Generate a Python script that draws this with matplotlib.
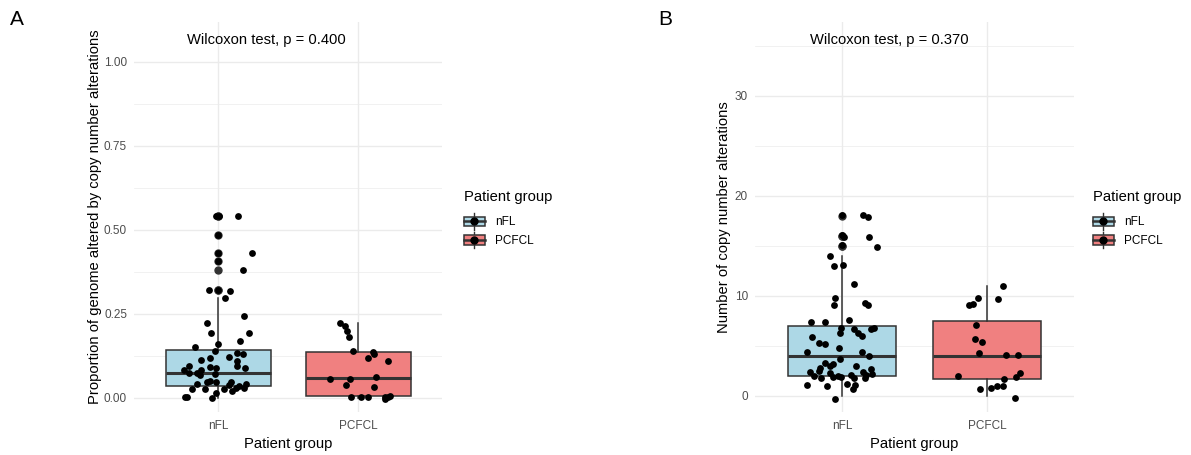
import matplotlib
matplotlib.use("Agg")
import matplotlib.pyplot as plt
import numpy as np
from matplotlib.legend_handler import HandlerBase
from matplotlib.lines import Line2D
from matplotlib.patches import Patch, Rectangle

plt.rcParams["font.family"] = ["Liberation Sans", "DejaVu Sans"]

groups = ["nFL", "PCFCL"]
group_colors = ["#ADD8E6", "#F08080"]
EDGE = "#333333"
GRID = "#EBEBEB"

# ---- panel A: proportion of genome altered ----
a_nfl_y = [0.542, 0.542, 0.542, 0.485, 0.431, 0.431, 0.409, 0.381, 0.320, 0.320,
           0.317, 0.298, 0.244, 0.222, 0.193, 0.192, 0.168, 0.159, 0.152, 0.141,
           0.135, 0.131, 0.119, 0.121, 0.114, 0.111, 0.096, 0.096, 0.091, 0.088,
           0.090, 0.083, 0.083, 0.075, 0.073, 0.068, 0.070, 0.051, 0.047, 0.047,
           0.040, 0.047, 0.039, 0.036, 0.041, 0.029, 0.027, 0.029, 0.026, 0.026,
           0.022, 0.016, 0.004, 0.004, -0.001]
a_nfl_dx = [-0.014, 0.010, 0.140, 0.000, 0.000, 0.243, 0.002, 0.180, -0.062, 0.000,
            0.083, 0.048, 0.183, -0.081, -0.048, 0.221, 0.160, 0.000, -0.162, -0.020,
            0.138, 0.181, -0.060, 0.081, -0.119, 0.138, 0.136, -0.210, -0.060, -0.012,
            0.195, -0.245, -0.119, -0.210, -0.150, -0.126, -0.019, -0.060, -0.012, -0.076,
            -0.150, 0.093, 0.076, 0.148, 0.200, 0.183, 0.040, 0.129, -0.186, -0.090,
            0.098, -0.012, -0.233, -0.219, -0.045]
a_pcfcl_y = [0.224, 0.215, 0.200, 0.182, 0.141, 0.136, 0.130, 0.120, 0.109, 0.062,
             0.056, 0.056, 0.037, 0.032, 0.002, 0.004, 0.004, 0.004, 0.004, 0.005,
             -0.003]
a_pcfcl_dx = [-0.129, -0.093, -0.076, -0.064, -0.033, 0.107, 0.117, 0.074, 0.217, 0.131,
              -0.202, -0.057, -0.083, 0.112, -0.052, 0.024, 0.074, 0.193, 0.212, 0.229,
              0.193]
a_q1 = [0.034, 0.006]
a_med = [0.073, 0.059]
a_q3 = [0.144, 0.136]
a_whislo = [0.0, 0.0]
a_whishi = [0.297, 0.223]
a_outliers = [[0.542, 0.542, 0.485, 0.431, 0.409, 0.381, 0.320, 0.320], []]
a_pvalue = "Wilcoxon test, p = 0.400"
a_yticks = [0.0, 0.25, 0.5, 0.75, 1.0]
a_yticklabels = ["0.00", "0.25", "0.50", "0.75", "1.00"]
a_yminor = [0.125, 0.375, 0.625, 0.875]

# ---- panel B: number of copy number alterations ----
b_nfl_y = [18.1, 18.1, 17.9, 16.1, 15.9, 15.9, 15.1, 14.9, 14.0, 13.0,
           13.1, 11.2, 9.8, 9.1, 9.3, 9.1, 7.6, 7.4, 7.4, 6.8,
           6.3, 6.7, 6.3, 6.0, 6.7, 6.8, 5.9, 5.3, 5.2, 4.8,
           4.4, 4.4, 4.0, 3.7, 3.3, 3.2, 3.0, 3.0, 2.8, 2.5,
           2.4, 2.0, 1.8, 2.3, 1.9, 2.0, 1.9, 2.1, 1.8, 2.4,
           1.8, 2.1, 2.7, 2.2, 1.1, 1.0, 1.2, 1.1, 0.7, -0.3]
b_nfl_dx = [0.000, 0.143, 0.179, 0.000, 0.014, 0.184, 0.000, 0.244, -0.085, -0.057,
            0.009, 0.083, -0.046, -0.057, 0.159, 0.177, 0.046, -0.216, -0.117, -0.009,
            -0.011, 0.080, 0.110, 0.138, 0.198, 0.221, -0.207, -0.161, -0.117, -0.021,
            -0.241, 0.136, 0.186, -0.011, -0.120, -0.064, -0.083, 0.094, -0.152, -0.156,
            -0.221, -0.195, -0.143, -0.085, -0.060, -0.025, -0.009, 0.060, 0.083, 0.147,
            0.161, 0.168, 0.202, 0.207, -0.239, -0.103, 0.032, 0.092, 0.074, -0.046]
b_pcfcl_y = [11.0, 9.8, 9.7, 9.2, 9.1, 7.1, 5.7, 5.4, 4.3, 4.1,
             4.1, 2.0, 2.3, 1.9, 1.7, 1.0, 1.0, 0.8, 0.7, -0.2]
b_pcfcl_dx = [0.108, -0.064, 0.074, -0.094, -0.126, -0.076, -0.083, -0.032, -0.055, 0.131,
              0.216, -0.200, 0.230, 0.198, 0.115, 0.110, 0.071, 0.028, -0.051, 0.195]
b_q1 = [2.0, 1.75]
b_med = [4.0, 4.0]
b_q3 = [7.0, 7.5]
b_whislo = [0.0, 0.0]
b_whishi = [14.0, 11.0]
b_outliers = [[18.0, 16.0, 16.0, 15.0, 15.0], []]
b_pvalue = "Wilcoxon test, p = 0.370"
b_yticks = [0, 10, 20, 30]
b_yticklabels = ["0", "10", "20", "30"]
b_yminor = [5, 15, 25, 35]


class BoxKey(HandlerBase):
    def create_artists(self, legend, orig_handle, xdescent, ydescent,
                       width, height, fontsize, trans):
        x0, y0 = -xdescent, -ydescent
        cx, cy = x0 + width / 2, y0 + height / 2
        whisk = Line2D([cx, cx], [y0 - 0.05 * height, y0 + 1.05 * height],
                       color=EDGE, lw=1.0, transform=trans)
        box = Rectangle((x0, y0 + 0.2 * height), width, 0.6 * height,
                        facecolor=orig_handle.get_facecolor(), edgecolor=EDGE,
                        lw=1.1, transform=trans)
        med = Line2D([x0, x0 + width], [cy, cy], color=EDGE, lw=1.8, transform=trans)
        dot = Line2D([cx], [cy], marker="o", ms=5, color="black", lw=0, transform=trans)
        return [whisk, box, med, dot]


def draw_panel(ax, ys, dxs, q1, med, q3, wlo, whi, outl, ptext, ptext_y,
               yticks, yticklabels, yminor, ylim, ylabel, ylabel_x):
    stats = []
    for i in range(2):
        stats.append({"q1": q1[i], "med": med[i], "q3": q3[i],
                      "whislo": wlo[i], "whishi": whi[i], "fliers": outl[i]})
    bp = ax.bxp(stats, positions=[1, 2], widths=0.75, patch_artist=True,
                showcaps=False,
                boxprops=dict(edgecolor=EDGE, linewidth=1.1),
                whiskerprops=dict(color=EDGE, linewidth=1.1),
                medianprops=dict(color=EDGE, linewidth=2.2),
                flierprops=dict(marker="o", markerfacecolor=EDGE,
                                markeredgecolor=EDGE, markersize=5),
                zorder=2)
    for patch, c in zip(bp["boxes"], group_colors):
        patch.set_facecolor(c)
    for i in range(2):
        ax.scatter(i + 1 + np.array(dxs[i]), ys[i], s=24, color="black",
                   linewidths=0, zorder=3)

    ax.set_xlim(0.4, 2.6)
    ax.set_ylim(*ylim)
    ax.set_xticks([1, 2])
    ax.set_xticklabels(groups)
    ax.set_yticks(yticks)
    ax.set_yticklabels(yticklabels)
    ax.set_yticks(yminor, minor=True)
    ax.tick_params(axis="both", which="both", length=0, labelsize=8.5,
                   labelcolor="#4D4D4D")
    ax.tick_params(axis="y", pad=5)
    ax.tick_params(axis="x", pad=6)
    ax.grid(True, which="major", color=GRID, lw=1.0, zorder=0)
    ax.grid(True, which="minor", axis="y", color=GRID, lw=0.5, zorder=0)
    ax.set_axisbelow(True)
    for s in ax.spines.values():
        s.set_visible(False)
    ax.set_xlabel("Patient group", fontsize=10.6, va="center")
    ax.xaxis.set_label_coords(0.5, -0.082)
    ax.set_ylabel(ylabel, fontsize=10.6, va="center")
    ax.yaxis.set_label_coords(ylabel_x, 0.5)
    ax.text(0.78, ptext_y, ptext, ha="left", va="center", fontsize=10.6)


fig = plt.figure(figsize=(11.91, 4.55), dpi=100)
axA = fig.add_axes([134 / 1191, 43 / 455, 308 / 1191, 390 / 455])
axB = fig.add_axes([755 / 1191, 43 / 455, 319 / 1191, 390 / 455])

draw_panel(axA, [a_nfl_y, a_pcfcl_y], [a_nfl_dx, a_pcfcl_dx], a_q1, a_med, a_q3,
           a_whislo, a_whishi, a_outliers, a_pvalue, 1.065,
           a_yticks, a_yticklabels, a_yminor, (-0.042, 1.119),
           "Proportion of genome altered by copy number alterations", -0.127)
draw_panel(axB, [b_nfl_y, b_pcfcl_y], [b_nfl_dx, b_pcfcl_dx], b_q1, b_med, b_q3,
           b_whislo, b_whishi, b_outliers, b_pvalue, 35.6,
           b_yticks, b_yticklabels, b_yminor, (-1.6, 37.4),
           "Number of copy number alterations", -0.097)

handles = [Patch(facecolor=c, edgecolor=EDGE) for c in group_colors]
for x_px in (464, 1093):
    leg = fig.legend(handles, groups, title="Patient group", loc="upper left",
                     bbox_to_anchor=(x_px / 1191, 1 - 190 / 455), frameon=False,
                     fontsize=8.5, title_fontsize=10.6, handlelength=1.75,
                     handleheight=1.6, labelspacing=0.3, handletextpad=0.9,
                     borderpad=0, borderaxespad=0, alignment="left",
                     handler_map={Patch: BoxKey()})
    leg._legend_box.sep = 7

fig.text(10 / 1191, 1 - 10 / 455, "A", fontsize=15, ha="left", va="top")
fig.text(658 / 1191, 1 - 10 / 455, "B", fontsize=15, ha="left", va="top")

fig.savefig("out.png", dpi=100)
